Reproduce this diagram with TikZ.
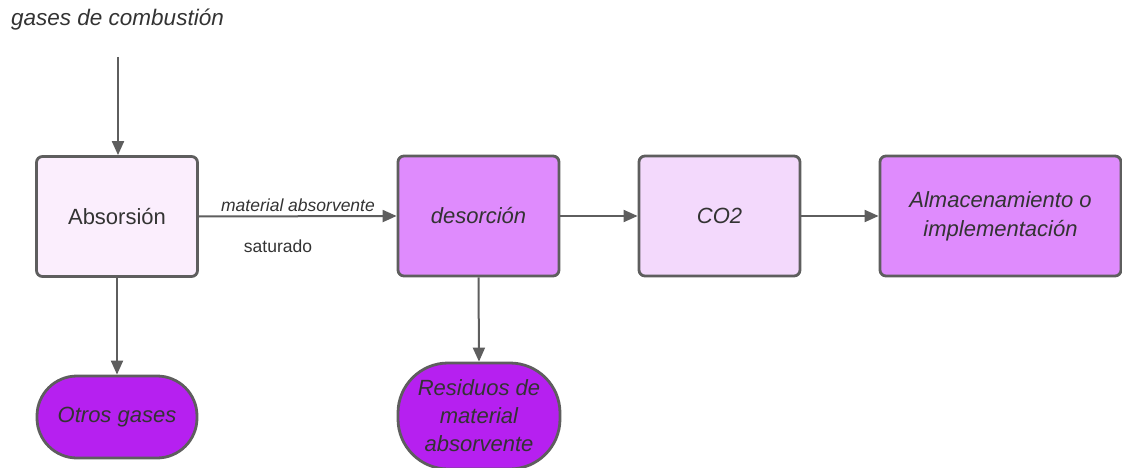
\documentclass[tikz,border=0pt]{standalone}
\usepackage{fontspec}
\setmainfont{Liberation Sans}
\usetikzlibrary{arrows.meta}
\definecolor{txt}{HTML}{333333}
\definecolor{edge}{HTML}{5E5E5E}
\definecolor{pale}{HTML}{FBEEFD}
\definecolor{mid}{HTML}{DF8BFD}
\definecolor{light}{HTML}{F3D9FC}
\definecolor{deep}{HTML}{B620F0}
\tikzset{
  box/.style={draw=edge, line width=2.8pt, rounded corners=6pt, minimum width=161pt, minimum height=120pt, inner sep=0pt, align=center, text=txt, font=\fontsize{22}{27}\selectfont},
  term/.style={draw=edge, line width=2.8pt, rounded corners=40pt, minimum width=160pt, minimum height=82pt, inner sep=0pt, align=center, text=txt, font=\fontsize{22}{27}\selectfont\itshape, fill=deep},
  conn/.style={draw=edge, line width=2pt, -{Triangle[length=14pt,width=12pt]}},
  lbl/.style={text=txt, font=\fontsize{17.5}{21}\selectfont, inner sep=0pt}
}
\begin{document}
\begin{tikzpicture}[x=1pt,y=-1pt]
\useasboundingbox (0,0) rectangle (1122,468);
\node[lbl, font=\fontsize{22.5}{27}\selectfont\itshape, anchor=west] (gas) at (11,20) {gases de combustión};
\coordinate (gstart) at (118,57);
\node[box, fill=pale] (abs) at (117,216.5) {Absorsión};
\node[box, fill=mid, font=\fontsize{22}{27}\selectfont\itshape] (des) at (478.5,216) {desorción};
\node[box, fill=light, font=\fontsize{22}{27}\selectfont\itshape] (co2) at (719.5,216) {CO2};
\node[box, fill=mid, minimum width=241pt, font=\fontsize{22}{29}\selectfont\itshape] (alm) at (1000.5,216) {Almacenamiento o\\implementación};
\node[term] (otros) at (117,417) {Otros gases};
\node[term, minimum width=162pt, minimum height=106pt, rounded corners=50pt, font=\fontsize{22}{28}\selectfont\itshape] (res) at (479,416) {Residuos de\\material\\absorvente};
\draw[conn] (gstart) -- (gstart |- abs.north);
\draw[conn] (abs.east) -- (des.west);
\node[lbl, font=\fontsize{17.5}{21}\selectfont\itshape] (lab1) at (298,205) {material absorvente};
\node[lbl] (lab2) at (278,246) {saturado};
\draw[conn] (des.east) -- (co2.west);
\draw[conn] (co2.east) -- (co2.east -| alm.west);
\draw[conn] (abs.south) -- (otros.north);
\draw[conn] (des.south) -- (res.north);
\end{tikzpicture}
\end{document}
